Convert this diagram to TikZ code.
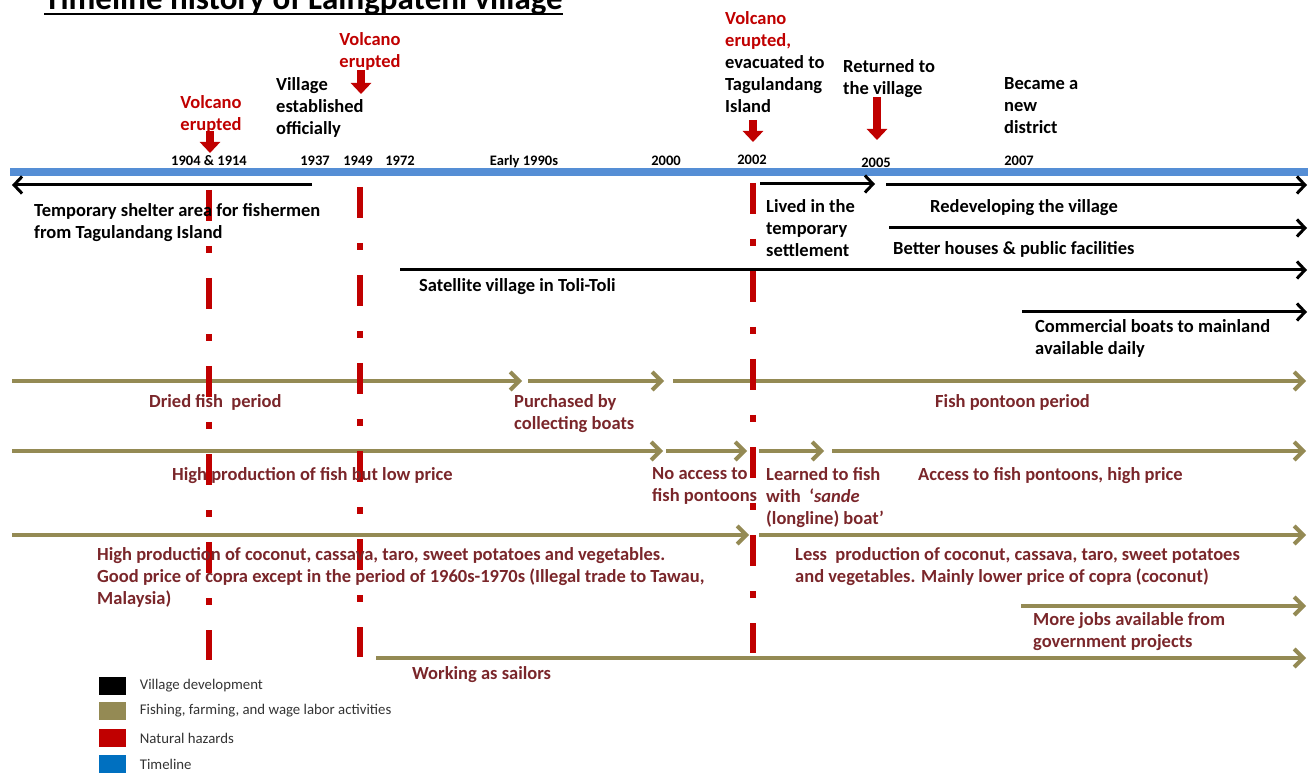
\documentclass[tikz,border=0pt]{standalone}
\usepackage{fontspec}
\setmainfont{Carlito}
\usepackage{tikz}
\usetikzlibrary{arrows.meta,positioning}

\definecolor{hazardred}{RGB}{192,0,0}
\definecolor{actolive}{RGB}{148,138,84}
\definecolor{acttext}{RGB}{122,38,42}
\definecolor{timeblue}{RGB}{85,142,213}
\definecolor{legblue}{RGB}{0,112,192}

\tikzset{
  yearlabel/.style={font=\fontsize{14.5}{17}\selectfont\bfseries, anchor=base, inner sep=0pt},
  eventlabel/.style={font=\fontsize{18.5}{22}\selectfont\bfseries, align=left, anchor=north west, inner sep=0pt, yshift=-3pt},
  hazardlabel/.style={eventlabel, text=hazardred, align=center, anchor=north},
  actlabel/.style={eventlabel, text=acttext},
  devarrow/.style={line width=3pt, -{Straight Barb[length=8pt,width=17pt]}},
  actarrow/.style={draw=actolive, line width=4pt, -{Straight Barb[length=9pt,width=18pt]}},
  hazardarrow/.style={draw=hazardred, line width=8pt, -{Triangle[length=11pt,width=20pt]}},
  hazardline/.style={draw=hazardred, line width=6.5pt, dash pattern=on 31pt off 25pt on 7pt off 25pt},
  legendbox/.style={minimum width=27pt, minimum height=18pt, inner sep=0pt},
  legendtext/.style={font=\fontsize{14.8}{17}\selectfont, text=black!80, inner sep=0pt}
}

\begin{document}
\begin{tikzpicture}[x=1pt, y=-1pt]
        % Fix the page size
        \useasboundingbox (0,0) rectangle (1312,775);

        % Title (top cut by the page edge)
        \node[font=\fontsize{33}{40}\selectfont\bfseries, anchor=base west, inner sep=0pt] (title) at (44,10) {Timeline history of Laingpatehi village};
        \draw[line width=2.5pt] ([yshift=-4pt]title.base west) -- ([yshift=-4pt]title.base east);

        % Draw the timeline
        \coordinate (T0) at (10,172);
        \coordinate (T1) at (1308,172);
        \draw[timeblue, line width=8pt] (T0) -- (T1);

        % Years above the timeline
        \node[yearlabel] (yr1904) at (209,166) {1904 \& 1914};
        \node[yearlabel] (yr1937) at (315,166) {1937};
        \node[yearlabel] (yr1949) at (358,166) {1949};
        \node[yearlabel] (yr1972) at (400,166) {1972};
        \node[yearlabel] (yr1990) at (524,166) {Early 1990s};
        \node[yearlabel] (yr2000) at (666,166) {2000};
        \node[yearlabel] (yr2002) at (752,165) {2002};
        \node[yearlabel] (yr2005) at (876,168) {2005};
        \node[yearlabel] (yr2007) at (1019,166) {2007};

        % Events above the timeline
        \node[hazardlabel] (erupt1904) at (211,92) {Volcano\\erupted};
        \node[hazardlabel] (erupt1949) at (370,29) {Volcano\\erupted};
        \node[eventlabel] (established) at (276,74) {Village\\established\\officially};
        \node[eventlabel] (erupt2002) at (725,8) {\textcolor{hazardred}{Volcano}\\\textcolor{hazardred}{erupted,}\\evacuated to\\Tagulandang\\Island};
        \node[eventlabel] (returned) at (843,56) {Returned to\\the village};
        \node[eventlabel] (district) at (1004,74) {Became a\\new\\district};

        % Red arrows down to the timeline
        \coordinate (H1a) at (210,131);
        \coordinate (H1b) at (210,153);
        \coordinate (H2a) at (361,70);
        \coordinate (H2b) at (361,94);
        \coordinate (H3a) at (753,120);
        \coordinate (H3b) at (753,142);
        \coordinate (H4a) at (877,97);
        \coordinate (H4b) at (877,140);
        \draw[hazardarrow] (H1a) -- (H1b);
        \draw[hazardarrow] (H2a) -- (H2b);
        \draw[hazardarrow] (H3a) -- (H3b);
        \draw[hazardarrow] (H4a) -- (H4b);

        % Village development arrows (black)
        \draw[devarrow] (312,185) -- (12,185);
        \draw[devarrow] (760,184) -- (875,184);
        \draw[devarrow] (886,185) -- (1307,185);
        \draw[devarrow] (889,228) -- (1307,228);
        \draw[devarrow] (400,270) -- (1307,270);
        \draw[devarrow] (1022,312) -- (1307,312);

        % Fishing, farming and wage labor arrows (olive)
        \draw[actarrow] (12,381) -- (522,381);
        \draw[actarrow] (528,381) -- (664,381);
        \draw[actarrow] (673,381) -- (1306,381);
        \draw[actarrow] (12,451) -- (663,451);
        \draw[actarrow] (666,451) -- (747,451);
        \draw[actarrow] (759,451) -- (824,451);
        \draw[actarrow] (832,451) -- (1306,451);
        \draw[actarrow] (12,535) -- (749,535);
        \draw[actarrow] (759,535) -- (1306,535);
        \draw[actarrow] (1021,606) -- (1306,606);
        \draw[actarrow] (376,658) -- (1306,658);

        % Natural hazards (red dash-dot lines)
        \draw[hazardline] (209,190) -- (209,660);
        \draw[hazardline] (360,187) -- (360,657);
        \draw[hazardline] (753,183) -- (753,653);

        % Village development texts
        \node[eventlabel] (shelter) at (34,200) {Temporary shelter area for fishermen\\from Tagulandang Island};
        \node[eventlabel] (lived) at (766,196) {Lived in the\\temporary\\settlement};
        \node[eventlabel] (redevelop) at (930,196) {Redeveloping the village};
        \node[eventlabel] (houses) at (893,238) {Better houses \& public facilities};
        \node[eventlabel] (satellite) at (419,275) {Satellite village in Toli-Toli};
        \node[eventlabel] (boats) at (1035,316) {Commercial boats to mainland\\available daily};

        % Fishing, farming and wage labor texts
        \node[actlabel] (driedfish) at (149,391) {Dried fish\ \ period};
        \node[actlabel] (purchased) at (514,391) {Purchased by\\collecting boats};
        \node[actlabel] (pontoon) at (935,391) {Fish pontoon period};
        \node[actlabel] (lowprice) at (172,464) {High production of fish but low price};
        \node[actlabel] (noaccess) at (652,464) {No access to\\fish pontoons};
        \node[actlabel] (learned) at (766,464) {Learned to fish\\with\ \ ‘\textit{sande}\\(longline) boat’};
        \node[actlabel] (highprice) at (918,464) {Access to fish pontoons, high price};
        \node[actlabel] (morecrops) at (97,544) {High production of coconut, cassava, taro, sweet potatoes and vegetables.\\Good price of copra except in the period of 1960s-1970s (Illegal trade to Tawau,\\Malaysia)};
        \node[actlabel] (lesscrops) at (795,544) {Less\ \ production of coconut, cassava, taro, sweet potatoes\\and vegetables. Mainly lower price of copra (coconut)};
        \node[actlabel] (morejobs) at (1033,609) {More jobs available from\\government projects};
        \node[actlabel] (sailors) at (412,663) {Working as sailors};

        % Legend
        \node[legendbox, fill=black] (keydev) at (112,686) {};
        \node[legendbox, fill=actolive] (keyact) at (112,711) {};
        \node[legendbox, fill=hazardred] (keyhaz) at (112,738) {};
        \node[legendbox, fill=legblue] (keytime) at (112,764) {};
        \node[legendtext, right=14pt of keydev] (txtdev) {Village development};
        \node[legendtext, right=14pt of keyact] (txtact) {Fishing, farming, and wage labor activities};
        \node[legendtext, right=14pt of keyhaz] (txthaz) {Natural hazards};
        \node[legendtext, right=14pt of keytime] (txttime) {Timeline};
    \end{tikzpicture}
\end{document}
